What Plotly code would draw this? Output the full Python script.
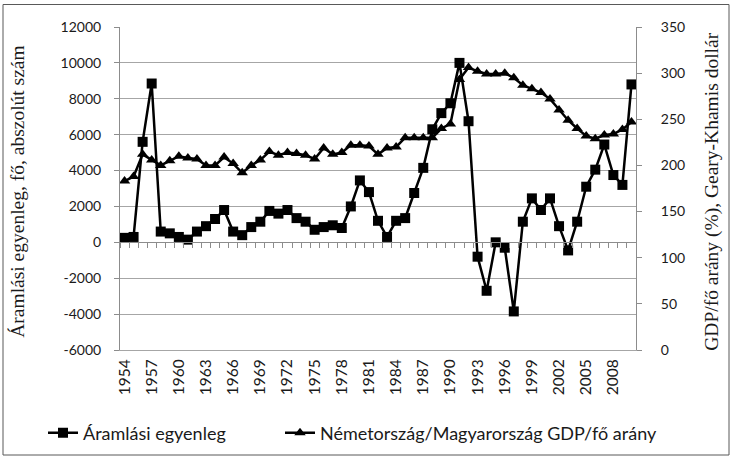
import plotly.graph_objects as go

years = list(range(1954, 2011))
flow = [250, 300, 5600, 8850, 600, 500, 300, 150, 600, 900,
        1300, 1800, 600, 400, 850, 1150, 1750, 1600, 1800, 1350,
        1150, 700, 850, 950, 800, 2000, 3450, 2800, 1200, 300,
        1200, 1350, 2750, 4150, 6300, 7200, 7750, 10000, 6750, -800,
        -2700, 0, -300, -3850, 1150, 2450, 1800, 2450, 900, -450,
        1150, 3100, 4050, 5450, 3750, 3200, 8800]
gdp_ratio = [183, 188, 212, 206, 200, 205, 210, 208, 207, 200,
             200, 209, 202, 192, 200, 206, 215, 211, 214, 213,
             211, 207, 219, 212, 214, 222, 222, 221, 212, 219,
             220, 230, 230, 230, 230, 240, 245, 293, 306, 302,
             299, 299, 300, 295, 287, 283, 279, 272, 260, 249,
             240, 232, 229, 233, 234, 239, 247]
x_tick_years = list(range(1954, 2009, 3))
x_tick_labels = [str(y) for y in x_tick_years]
left_ticks = [-6000, -4000, -2000, 0, 2000, 4000, 6000, 8000, 10000, 12000]
left_tick_labels = [str(v) for v in left_ticks]
right_ticks = [0, 50, 100, 150, 200, 250, 300, 350]

name1 = "Áramlási egyenleg"
name2 = "Németország/Magyarország GDP/fő arány"
title_left = "Áramlási egyenleg, fő, abszolút szám"
title_right = "GDP/fő arány (%), Geary-Khamis dollár"

GRID = "#a6a6a6"
AX = "#8c8c8c"
SANS = "Lato, Open Sans, sans-serif"
SERIF = "Liberation Serif, Times New Roman, serif"
TXT = "#1a1a1a"

fig = go.Figure()
fig.add_trace(go.Scatter(
    x=years, y=flow, name=name1, mode="lines+markers",
    line=dict(color="black", width=2.5),
    marker=dict(symbol="square", size=10, color="black"),
    xaxis="x", yaxis="y", legend="legend"))
fig.add_trace(go.Scatter(
    x=years, y=gdp_ratio, name=name2, mode="lines+markers",
    line=dict(color="black", width=2.5),
    marker=dict(symbol="triangle-up", size=10, color="black"),
    xaxis="x", yaxis="y2", legend="legend2"))
# helper trace so the zero-line category axis is drawn
fig.add_trace(go.Scatter(
    x=[years[0]], y=[0], mode="markers", marker=dict(opacity=0),
    showlegend=False, hoverinfo="skip", xaxis="x2", yaxis="y"))

xr = [years[0] - 0.5, years[-1] + 0.5]
boundaries = [y - 0.5 for y in years] + [years[-1] + 0.5]

L, R, T, B = 120, 97, 27, 109
W, H = 733, 459
pw, ph = W - L - R, H - T - B

def px(x):
    return (x - L) / pw

def py(y):
    return (H - B - y) / ph

legend_common = dict(
    orientation="h", xref="container", yref="container",
    y=1 - 433 / H, xanchor="left", yanchor="middle",
    font=dict(family=SANS, size=18, color=TXT),
    itemwidth=30, bgcolor="rgba(0,0,0,0)")

fig.update_layout(
    width=W, height=H,
    margin=dict(l=L, r=R, t=T, b=B, pad=0),
    paper_bgcolor="white", plot_bgcolor="white",
    font=dict(family=SANS, size=13, color=TXT),
    showlegend=True,
    xaxis=dict(
        range=xr, tickmode="array", tickvals=x_tick_years, ticktext=x_tick_labels,
        tickangle=-90, ticks="", showgrid=False, zeroline=False,
        showline=True, linecolor=GRID, linewidth=1,
        tickfont=dict(family=SANS, size=15.5, color=TXT),
        ticklabelstandoff=2),
    xaxis2=dict(
        range=xr, overlaying="x", anchor="free", position=6000 / 18000,
        side="bottom", tickmode="array", tickvals=boundaries,
        ticks="outside", ticklen=5, tickcolor=AX, tickwidth=1,
        showticklabels=False, showgrid=False, zeroline=False,
        showline=True, linecolor=AX, linewidth=1),
    yaxis=dict(
        range=[-6000, 12000], tickmode="array", tickvals=left_ticks,
        ticktext=left_tick_labels, showgrid=True, gridcolor=GRID, gridwidth=1,
        zeroline=False, showline=True, linecolor=AX, linewidth=1,
        ticks="outside", ticklen=5, tickcolor=AX,
        tickfont=dict(family=SANS, size=14, color=TXT),
        ticklabelstandoff=10),
    yaxis2=dict(
        range=[0, 350], overlaying="y", side="right", anchor="x",
        tickmode="array", tickvals=right_ticks, showgrid=False, zeroline=False,
        showline=True, linecolor=AX, linewidth=1,
        ticks="outside", ticklen=5, tickcolor=AX,
        tickfont=dict(family=SANS, size=14, color=TXT),
        ticklabelstandoff=16),
    legend=dict(legend_common, x=43 / W),
    legend2=dict(legend_common, x=280 / W),
    annotations=[
        dict(text=title_left, x=px(18), y=0.49, xref="paper", yref="paper",
             textangle=-90, showarrow=False, xanchor="center", yanchor="middle",
             font=dict(family=SERIF, size=19.5, color=TXT)),
        dict(text=title_right, x=px(712), y=0.49, xref="paper", yref="paper",
             textangle=-90, showarrow=False, xanchor="center", yanchor="middle",
             font=dict(family=SERIF, size=19.5, color=TXT)),
    ],
    shapes=[
        dict(type="rect", xref="paper", yref="paper",
             x0=px(3), x1=px(729), y0=py(455), y1=py(4.5),
             line=dict(color="#595959", width=1), fillcolor="rgba(0,0,0,0)",
             layer="below"),
    ],
)

fig.write_html("out.html",
               config={"displayModeBar": False},
               post_script="document.body.style.margin='0';document.body.style.overflow='hidden';")
